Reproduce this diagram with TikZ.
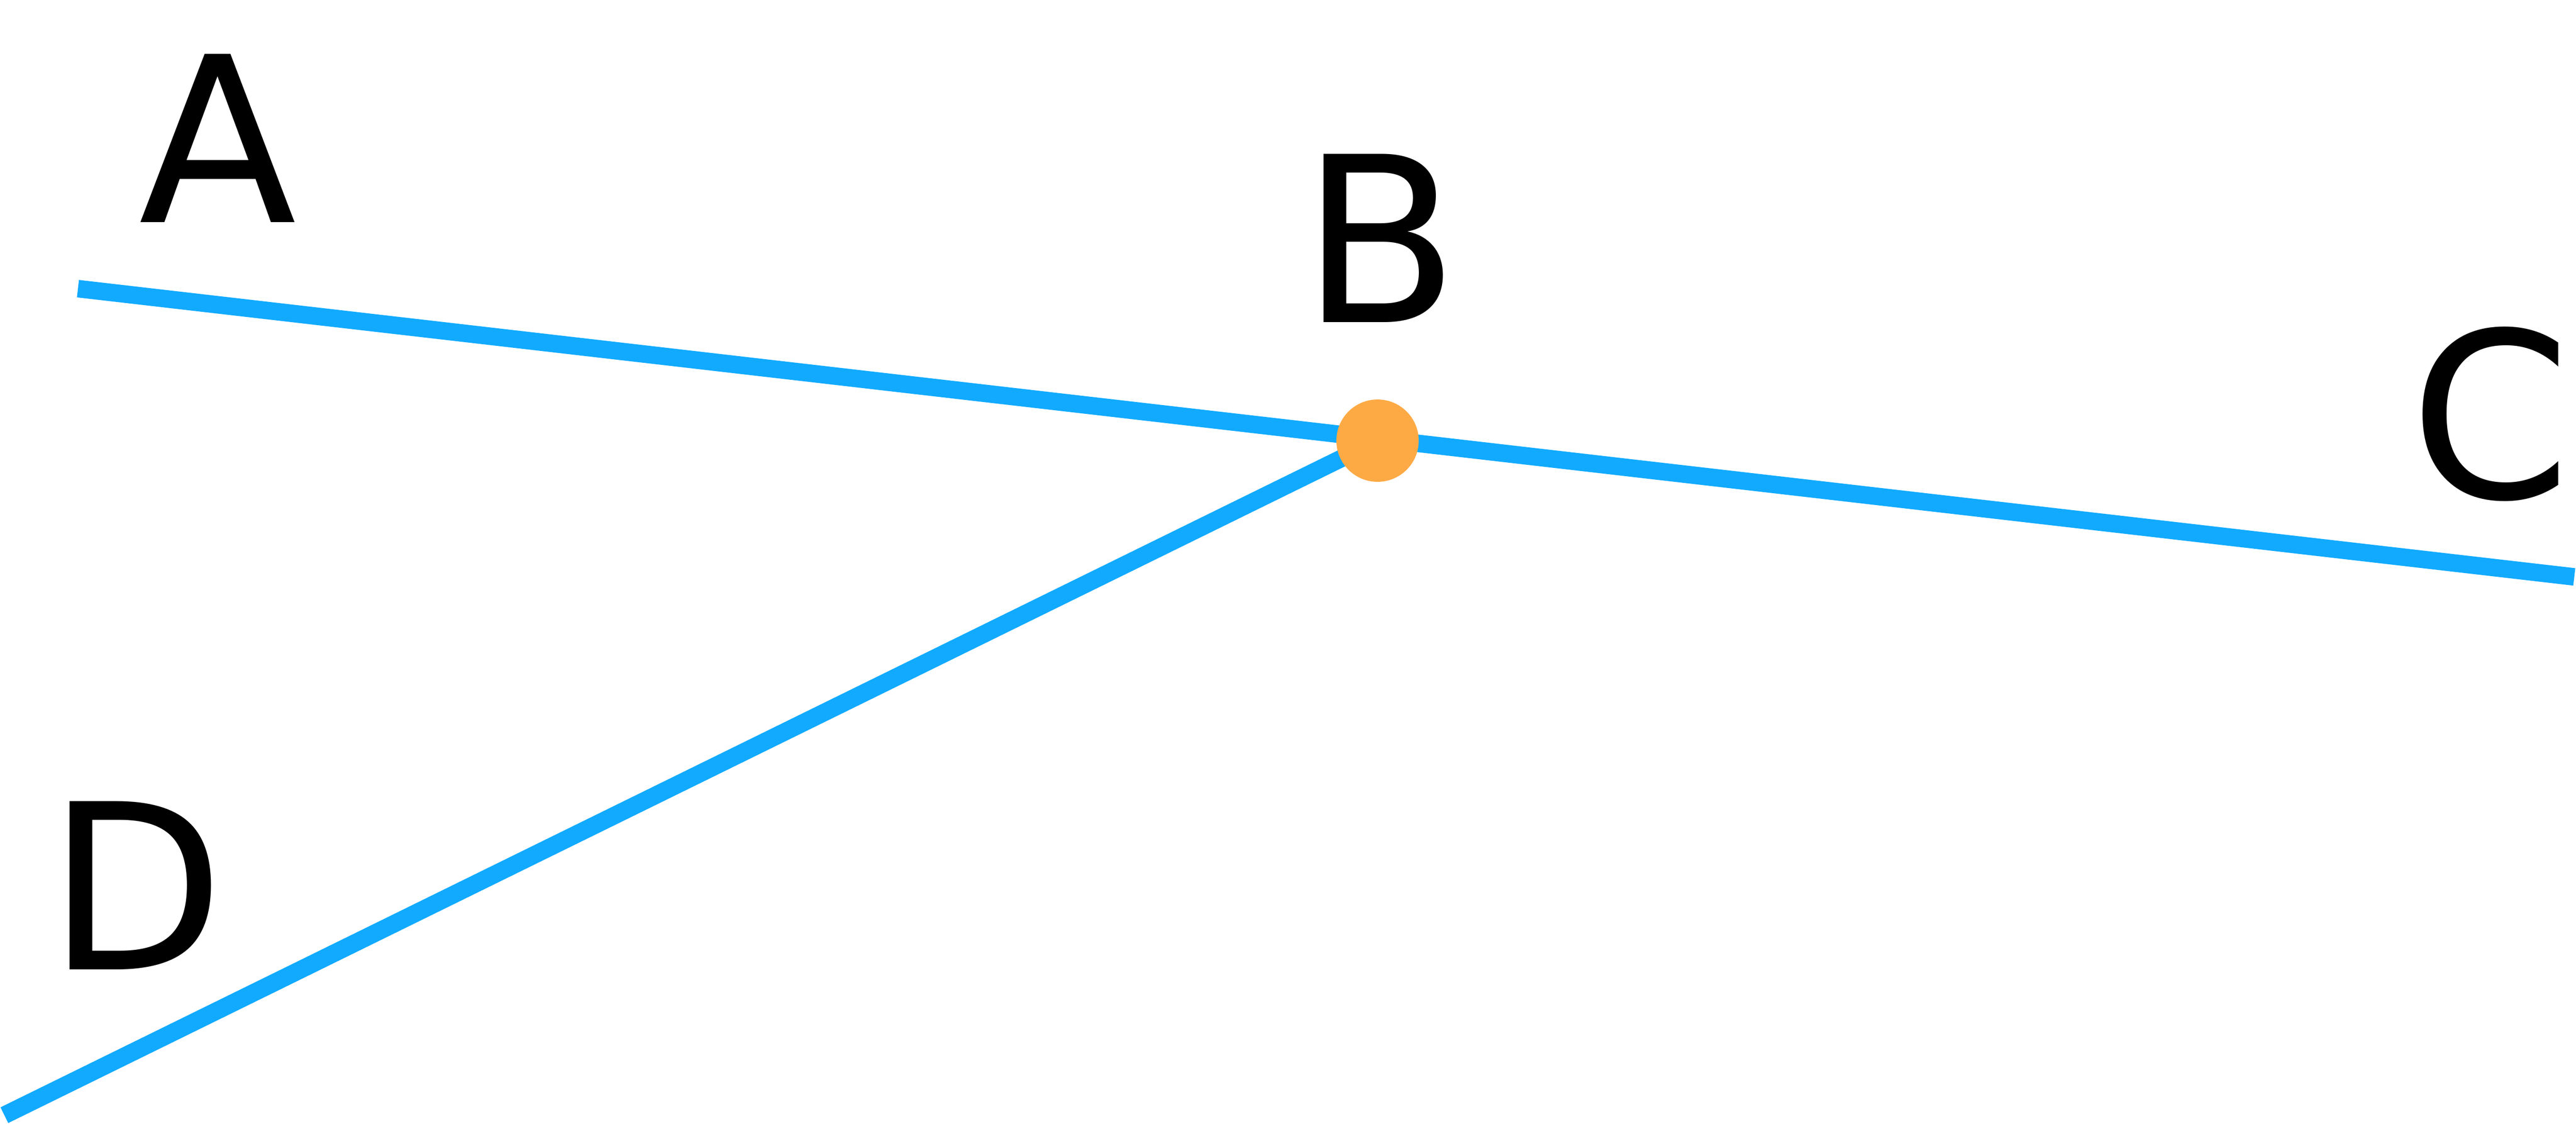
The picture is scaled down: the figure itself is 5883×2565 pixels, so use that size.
\documentclass[tikz,border=0pt]{standalone}
\usepackage{fontspec}
\setmainfont{DejaVu Sans}
\definecolor{lineblue}{RGB}{17,170,255}
\definecolor{dotorange}{RGB}{253,170,69}
\begin{document}
\begin{tikzpicture}[x=0.1pt,y=-0.1pt,
  seg/.style={draw=lineblue,line width=4pt,line cap=butt},
  dot/.style={circle,fill=dotorange,minimum size=18.8pt,inner sep=0pt},
  lab/.style={inner sep=0pt,anchor=base,font=\fontsize{52.7pt}{60pt}\selectfont}]
\useasboundingbox (0,0) rectangle (5883,2565);
\coordinate (pA) at (178,659);
\coordinate (pC) at (5879,1317);
\coordinate (pD) at (10,2546);
\coordinate (pB) at (3146,1006);
\draw[seg] (pA) -- (pC);
\draw[seg] (pD) -- (pB);
\node[dot] (B) at (pB) {};
\node[lab] (labA) at (497,508) {A};
\node[lab] (labB) at (3152,736) {B};
\node[lab] (labC) at (5687,1137) {C};
\node[lab] (labD) at (310,2214) {D};
\end{tikzpicture}
\end{document}
